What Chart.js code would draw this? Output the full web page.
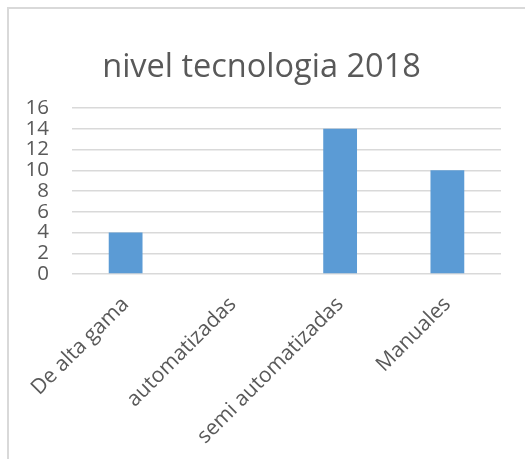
<!DOCTYPE html>
<html>
<head>
<meta charset="utf-8">
<script src="https://cdn.jsdelivr.net/npm/chart.js@4/dist/chart.umd.min.js"></script>
<style>
  html, body { margin: 0; padding: 0; background: #fff; overflow: hidden; width: 525px; height: 459px; }
  #wrap { position: absolute; left: 0; top: 0; width: 525px; height: 459px; }
  #frame { position: absolute; left: 7px; top: 7px; width: 600px; height: 600px; border: 2px solid #d9d9d9; pointer-events: none; }
</style>
</head>
<body>
<div id="wrap"><canvas id="c" width="525" height="459"></canvas></div>
<div id="frame"></div>
<script>
const titleText = 'nivel tecnologia 2018';
const categories = ['De alta gama', 'automatizadas', 'semi automatizadas', 'Manuales'];
const values = [4, 0, 14, 10];
const yTicks = [0, 2, 4, 6, 8, 10, 12, 14, 16];

const textColor = '#595959';
const fontFamily = '"Open Sans", "Liberation Sans", sans-serif';

new Chart(document.getElementById('c'), {
  type: 'bar',
  data: {
    labels: categories,
    datasets: [{
      data: values,
      backgroundColor: '#5b9bd5',
      borderWidth: 0,
      barPercentage: 0.315,
      categoryPercentage: 1
    }]
  },
  options: {
    responsive: false,
    animation: false,
    devicePixelRatio: 1,
    layout: { padding: { top: 8, right: 24, bottom: 0, left: 22 } },
    plugins: {
      legend: { display: false },
      tooltip: { enabled: false },
      title: {
        display: true,
        text: titleText,
        color: textColor,
        font: { family: fontFamily, size: 32.5, weight: 'normal', lineHeight: 1.2 },
        padding: { top: 40, bottom: 21 }
      }
    },
    scales: {
      x: {
        grid: { display: false },
        border: { display: false },
        ticks: {
          color: textColor,
          font: { family: fontFamily, size: 21 },
          maxRotation: 45,
          minRotation: 45,
          autoSkip: false,
          padding: 10
        },
        afterFit: (s) => { s.height = 185; }
      },
      y: {
        min: yTicks[0],
        max: yTicks[yTicks.length - 1],
        afterBuildTicks: (s) => { s.ticks = yTicks.map(v => ({ value: v })); },
        grid: { color: '#d9d9d9', lineWidth: 1.5, drawTicks: false },
        border: { display: false },
        ticks: {
          color: textColor,
          font: { family: fontFamily, size: 20.5, lineHeight: 1 },
          autoSkip: false,
          padding: 23
        },
        afterFit: (s) => { s.width = 50; }
      }
    }
  }
});
</script>
</body>
</html>
